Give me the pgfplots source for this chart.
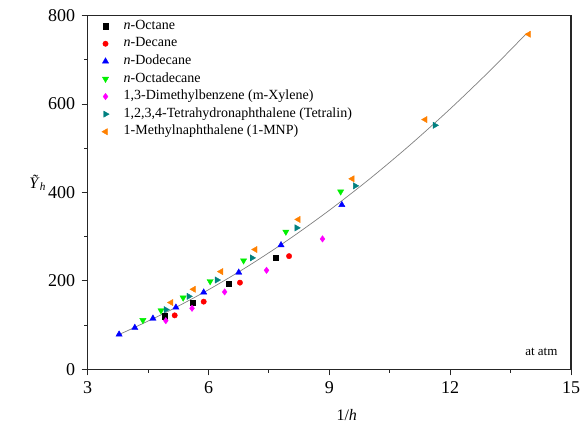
\documentclass[border=0pt]{standalone}
\usepackage{fontspec}
\setmainfont{Liberation Serif}
\usepackage{pgfplots}
\pgfplotsset{compat=1.18}
\usetikzlibrary{calc}
\definecolor{cgreen}{RGB}{0,240,0}
\definecolor{cteal}{RGB}{0,128,128}
\definecolor{corange}{RGB}{255,128,0}
\definecolor{cmag}{RGB}{255,0,255}
\begin{document}
\begin{tikzpicture}
\begin{axis}[
  scale only axis, width=483.3pt, height=353.6pt,
  xmin=3, xmax=15, ymin=0, ymax=800,
  xtick={3,6,9,12,15}, ytick={0,200,400,600,800},
  minor x tick num=1, minor y tick num=1,
  tick pos=left, tick align=outside,
  major tick length=6pt, minor tick length=3.5pt,
  axis line style={line width=1.1pt, black!85},
  every tick/.style={line width=0.9pt, black!85},
  /pgf/number format/assume math mode=true,
  tick label style={font=\fontsize{18}{18}\selectfont},
  xticklabel style={yshift=-3pt},
  yticklabel style={xshift=-3pt},
  xlabel={1/\textit{h}},
  xlabel style={at={(rel axis cs:0.536,0)}, anchor=base, yshift=-51pt, font=\fontsize{16}{16}\selectfont},
  legend style={draw=none, fill=none, at={(rel axis cs:0.005,1.0)}, anchor=north west,
    font=\fontsize{14}{14}\selectfont, row sep=1.1pt,
    nodes={text height=9.5pt, text depth=3pt, inner sep=2pt}},
  legend cell align=left,
  legend image code/.code={\path (0pt,0pt) (28pt,0pt); \draw[mark repeat=2,mark phase=2,#1] plot coordinates {(0pt,0pt)(12pt,0pt)(28pt,0pt)};},
  clip=false,
]
\addplot[only marks, mark=square*, mark size=2.6pt, black] coordinates {
(4.91,120)(5.61,151)(6.50,193)(7.67,253)};
\addlegendentry{\textit{n}-Octane}
\addplot[only marks, mark=*, mark size=2.7pt, red] coordinates {
(5.16,122)(5.88,153)(6.78,196)(8.00,256)};
\addlegendentry{\textit{n}-Decane}
\addplot[only marks, mark=triangle*, mark size=3.6pt, blue] coordinates {
(3.78,79)(4.17,94)(4.62,115)(5.19,140)(5.88,174)(6.75,219)(7.80,281)(9.31,372)};
\addlegendentry{\textit{n}-Dodecane}
\addplot[only marks, mark=triangle*, mark options={rotate=180}, mark size=3.6pt, cgreen] coordinates {
(4.37,111)(4.82,133)(5.37,162)(6.04,199)(6.87,246)(7.92,311)(9.28,402)};
\addlegendentry{\textit{n}-Octadecane}
\addplot[only marks, mark=diamond*, mark size=3.2pt, cmag] coordinates {
(4.94,110)(5.59,138)(6.40,175)(7.44,224)(8.83,295)};
\addlegendentry{1,3-Dimethylbenzene (m-Xylene)}
\addplot[only marks, mark=triangle*, mark options={rotate=-90}, mark size=3.6pt, cteal] coordinates {
(4.94,135)(5.51,165)(6.21,202)(7.08,252)(8.19,320)(9.64,415)(11.62,552)};
\addlegendentry{1,2,3,4-Tetrahydronaphthalene (Tetralin)}
\addplot[only marks, mark=triangle*, mark options={rotate=90}, mark size=3.6pt, corange] coordinates {
(5.07,151)(5.63,181)(6.31,221)(7.16,271)(8.23,339)(9.57,431)(11.38,565)(13.95,758)};
\addlegendentry{1-Methylnaphthalene (1-MNP)}
\addplot[smooth, gray, line width=0.7pt, forget plot] coordinates {
(3.75,77.8)(4,87.8)(5,131.2)(6,180.0)(7,234.4)(8,294.3)(9,359.8)(10,430.7)(11,507.2)(12,589.2)(13,676.7)(13.9,760.2)};
\node[anchor=base east, font=\fontsize{13}{13}\selectfont] at ($(rel axis cs:1,0)+(-10pt,13.3pt)$) {at atm};
\node[font=\fontsize{16}{16}\selectfont] at ($(rel axis cs:0,0.527)+(-50pt,0pt)$) {\textit{Ỹ}\textsubscript{\textit{h}}};
\end{axis}
\pgfresetboundingbox
\path ($(current axis.south west)+(-87.7pt,-54.7pt)$) rectangle ($(current axis.north east)+(9pt,15.7pt)$);
\end{tikzpicture}
\end{document}
